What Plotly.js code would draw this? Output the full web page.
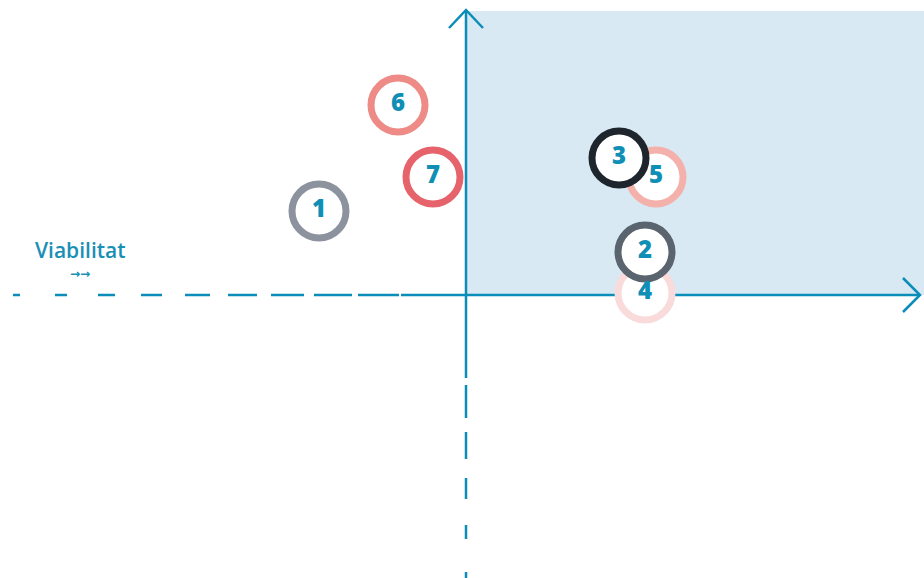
<!DOCTYPE html>
<html>
<head>
<meta charset="utf-8">
<script src="https://cdn.plot.ly/plotly-3.0.1.min.js"></script>
<style>html,body{margin:0;padding:0;background:#fff;}#chart{width:924px;height:578px;}</style>
</head>
<body>
<div id="chart"></div>
<script>
// Data (points drawn in back-to-front order)
const labels = ["1", "6", "7", "4", "2", "5", "3"];
const xValues = [-1.47, -0.68, -0.33, 1.79, 1.79, 1.90, 1.53];
const yValues = [0.84, 1.90, 1.18, 0.02, 0.43, 1.18, 1.37];
const ringColors = ["#8c939e", "#ee8b86", "#e6636b", "#f9dbdb", "#5a646e", "#f4b1ab", "#1e252c"];

const axisColor = "#0a8db8";
const textColor = "#0f8fb5";

const shapes = [];
// shaded quadrant
shapes.push({type: "rect", xref: "x", yref: "y", x0: 0, x1: 4.58, y0: 0, y1: 2.84,
  fillcolor: "#d9e9f3", line: {width: 0}, layer: "below"});
// solid axes
shapes.push({type: "line", x0: 0, x1: 0, y0: -0.83, y1: 2.85, line: {color: axisColor, width: 2.5}, layer: "below"});
shapes.push({type: "line", x0: 0, x1: 4.54, y0: 0, y1: 0, line: {color: axisColor, width: 2.5}, layer: "below"});
// arrowheads
shapes.push({type: "path", path: "M -0.17 2.67 L 0 2.85 L 0.17 2.67", line: {color: axisColor, width: 2.5}});
shapes.push({type: "path", path: "M 4.37 0.17 L 4.54 0 L 4.37 -0.17", line: {color: axisColor, width: 2.5}});
// left dashed segments (pixel x ranges)
const hDashes = [[13,20],[55,67],[98,115],[141,162],[185,210],[228,257],[271,304],[314,352],[358,399],[401,466]];
hDashes.forEach(d => shapes.push({type: "line", x0: (d[0]-466)/100, x1: (d[1]-466)/100, y0: 0, y1: 0,
  line: {color: axisColor, width: 2.5}, layer: "below"}));
// bottom dashed segments (pixel y ranges)
const vDashes = [[385,418],[432,459],[478,499],[525,539],[572,580]];
vDashes.forEach(d => shapes.push({type: "line", x0: 0, x1: 0, y0: (295-d[0])/100, y1: (295-d[1])/100,
  line: {color: axisColor, width: 2.5}, layer: "below"}));

const rings = {
  x: xValues, y: yValues,
  mode: "markers", type: "scatter",
  marker: {size: 54, color: "#ffffff", line: {color: ringColors, width: 7}},
  hoverinfo: "none", cliponaxis: false
};
const numbers = {
  x: xValues, y: yValues, text: labels,
  mode: "text", type: "scatter",
  textposition: "middle center",
  textfont: {family: "'Open Sans', sans-serif", size: 24, color: textColor, weight: 800},
  hoverinfo: "none", cliponaxis: false
};

const layout = {
  width: 924, height: 578,
  margin: {l: 0, r: 0, t: 0, b: 0, pad: 0},
  paper_bgcolor: "#ffffff", plot_bgcolor: "#ffffff",
  showlegend: false,
  xaxis: {range: [-4.66, 4.58], showgrid: false, zeroline: false, showticklabels: false, showline: false, fixedrange: true},
  yaxis: {range: [-2.83, 2.95], showgrid: false, zeroline: false, showticklabels: false, showline: false, fixedrange: true},
  shapes: shapes,
  annotations: [
    {xref: "paper", yref: "paper", x: 80/924, y: 1 - 250/578, text: "Viabilitat", showarrow: false,
     font: {family: "'Open Sans', sans-serif", size: 21, color: "#1a8fb6", weight: 600}, xanchor: "center", yanchor: "middle"},
    {xref: "paper", yref: "paper", x: 80/924, y: 1 - 274/578, text: "→→", showarrow: false,
     font: {family: "'DejaVu Sans', sans-serif", size: 12, color: "#1a8fb6", weight: 700}, xanchor: "center", yanchor: "middle"}
  ]
};

Plotly.newPlot("chart", [rings, numbers], layout, {staticPlot: true, displayModeBar: false});
</script>
</body>
</html>
